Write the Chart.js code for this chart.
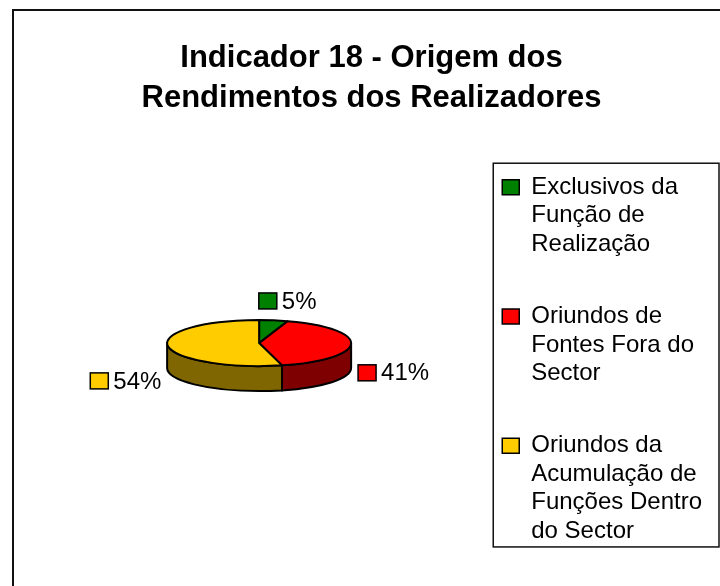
<!DOCTYPE html>
<html>
<head>
<meta charset="utf-8">
<script src="https://cdn.jsdelivr.net/npm/chart.js@4.4.0/dist/chart.umd.min.js"></script>
<style>
  html, body { margin: 0; padding: 0; background: #fff; }
  #chart { display: block; }
</style>
</head>
<body>
<canvas id="chart" width="720" height="586"></canvas>
<script>
// =================== DATA ===================
const titleLines = ["Indicador 18 - Origem dos", "Rendimentos dos Realizadores"];
const categories = [
  ["Exclusivos da", "Função de", "Realização"],
  ["Oriundos de", "Fontes Fora do", "Sector"],
  ["Oriundos da", "Acumulação de", "Funções Dentro", "do Sector"]
];
const shares = [5, 41, 54];
const sliceColors = ["#008000", "#FF0000", "#FFCC00"];

// =================== STYLE ===================
const FONT = "'Liberation Sans', Arial, Helvetica, sans-serif";
const TILT = 0.25;   // vertical squash of the pie top
const DEPTH = 0.272; // thickness relative to radius

Chart.defaults.font.family = FONT;
Chart.defaults.color = "#000";

// darker shade for the side walls
function darker(hex) {
  const n = parseInt(hex.slice(1), 16);
  const r = (n >> 16) >> 1, g = ((n >> 8) & 255) >> 1, b = (n & 255) >> 1;
  return `rgb(${r},${g},${b})`;
}

function pieGeom(chart) {
  const arcs = chart.getDatasetMeta(0).data;
  const p = arcs[0].getProps(["x", "y", "outerRadius"], true);
  const rx = p.outerRadius, ry = rx * TILT, depth = rx * DEPTH;
  return { arcs, cx: p.x, cy: p.y - depth, rx, ry, depth };
}

// =================== 3D PIE PLUGIN ===================
const pie3d = {
  id: "pie3d",
  beforeDraw(chart) {
    const ctx = chart.ctx;
    ctx.save();
    ctx.fillStyle = "#fff";
    ctx.fillRect(0, 0, chart.width, chart.height);
    // outer chart frame (runs off the right and bottom)
    ctx.strokeStyle = "#111";
    ctx.lineWidth = 2;
    ctx.strokeRect(13, 10, chart.width + 40, chart.height + 40);
    // legend frame around the legend items
    const hb = chart.legend.legendHitBoxes;
    if (hb && hb.length) {
      const last = hb[hb.length - 1];
      const x0 = hb[0].left - 9, y0 = hb[0].top - 12;
      const y1 = last.top + last.height - 1;
      ctx.lineWidth = 1.5;
      ctx.strokeRect(x0, y0, chart.width - 1 - x0, y1 - y0);
    }
    ctx.restore();
  },
  beforeDatasetsDraw(chart) {
    const ctx = chart.ctx;
    const { arcs, cx, cy, rx, ry, depth } = pieGeom(chart);
    ctx.save();
    ctx.lineWidth = 2;
    ctx.lineJoin = "round";
    ctx.strokeStyle = "#000";

    // side walls (front half only)
    arcs.forEach((arc, i) => {
      const { startAngle, endAngle } = arc.getProps(["startAngle", "endAngle"], true);
      const lo = Math.max(startAngle, 0), hi = Math.min(endAngle, Math.PI);
      if (lo >= hi) return;
      ctx.beginPath();
      ctx.ellipse(cx, cy, rx, ry, 0, lo, hi, false);
      ctx.ellipse(cx, cy + depth, rx, ry, 0, hi, lo, true);
      ctx.closePath();
      ctx.fillStyle = darker(sliceColors[i]);
      ctx.fill();
      ctx.stroke();
    });

    // top faces
    arcs.forEach((arc, i) => {
      const { startAngle, endAngle } = arc.getProps(["startAngle", "endAngle"], true);
      ctx.beginPath();
      ctx.moveTo(cx, cy);
      ctx.ellipse(cx, cy, rx, ry, 0, startAngle, endAngle, false);
      ctx.closePath();
      ctx.fillStyle = sliceColors[i];
      ctx.fill();
      ctx.stroke();
    });
    ctx.restore();
    return false; // skip the flat pie
  },
  afterDraw(chart) {
    // percentage labels with a colour key
    const ctx = chart.ctx;
    const { arcs, cx, cy, rx, ry, depth } = pieGeom(chart);
    const total = shares.reduce((a, b) => a + b, 0);
    ctx.save();
    ctx.font = `24px ${FONT}`;
    ctx.textBaseline = "middle";
    ctx.textAlign = "left";
    arcs.forEach((arc, i) => {
      const { startAngle, endAngle } = arc.getProps(["startAngle", "endAngle"], true);
      const m = (startAngle + endAngle) / 2;
      const c = Math.cos(m), s = Math.sin(m);
      const text = Math.round(shares[i] / total * 100) + "%";
      const sq = 18, gap = 5;
      const w = sq + gap + ctx.measureText(text).width;
      const px = cx + (rx + 7) * c;
      const left = px - w * Math.pow((1 - c) / 2, 1.5);
      const py = cy + ry * s + (1 - Math.abs(s)) * (depth + 2) + s * (s < 0 ? 20 : 90);
      ctx.fillStyle = sliceColors[i];
      ctx.fillRect(left, py - 8, sq, 16);
      ctx.lineWidth = 1.5;
      ctx.strokeStyle = "#000";
      ctx.strokeRect(left, py - 8, sq, 16);
      ctx.fillStyle = "#000";
      ctx.fillText(text, left + sq + gap, py + 1);
    });
    ctx.restore();
  }
};

// =================== CHART ===================
new Chart(document.getElementById("chart"), {
  type: "pie",
  data: {
    labels: categories,
    datasets: [{
      data: shares,
      backgroundColor: sliceColors,
      borderColor: "#000",
      borderWidth: 2,
      radius: 92
    }]
  },
  options: {
    responsive: false,
    animation: false,
    layout: { padding: { left: 31, right: 8, top: 10, bottom: 10 } },
    plugins: {
      tooltip: { enabled: false },
      title: {
        display: true,
        text: titleLines,
        color: "#000",
        font: { size: 31, weight: "bold", lineHeight: 1.31 },
        padding: { top: 28, bottom: 41 }
      },
      legend: {
        position: "right",
        align: "start",
        fullSize: false,
        labels: {
          font: { size: 24, lineHeight: 1.19 },
          color: "#000",
          boxWidth: 17,
          boxHeight: 15,
          padding: 15,
          generateLabels: (chart) => {
            const ds = chart.data.datasets[0];
            return chart.data.labels.map((lab, i) => ({
              // a blank trailing line gives the gap between entries
              text: lab.length < 4 ? lab.concat([""]) : lab,
              fillStyle: ds.backgroundColor[i],
              strokeStyle: "#000",
              lineWidth: 1.5,
              fontColor: "#000",
              hidden: false,
              index: i
            }));
          }
        }
      }
    }
  },
  plugins: [pie3d]
});
</script>
</body>
</html>
